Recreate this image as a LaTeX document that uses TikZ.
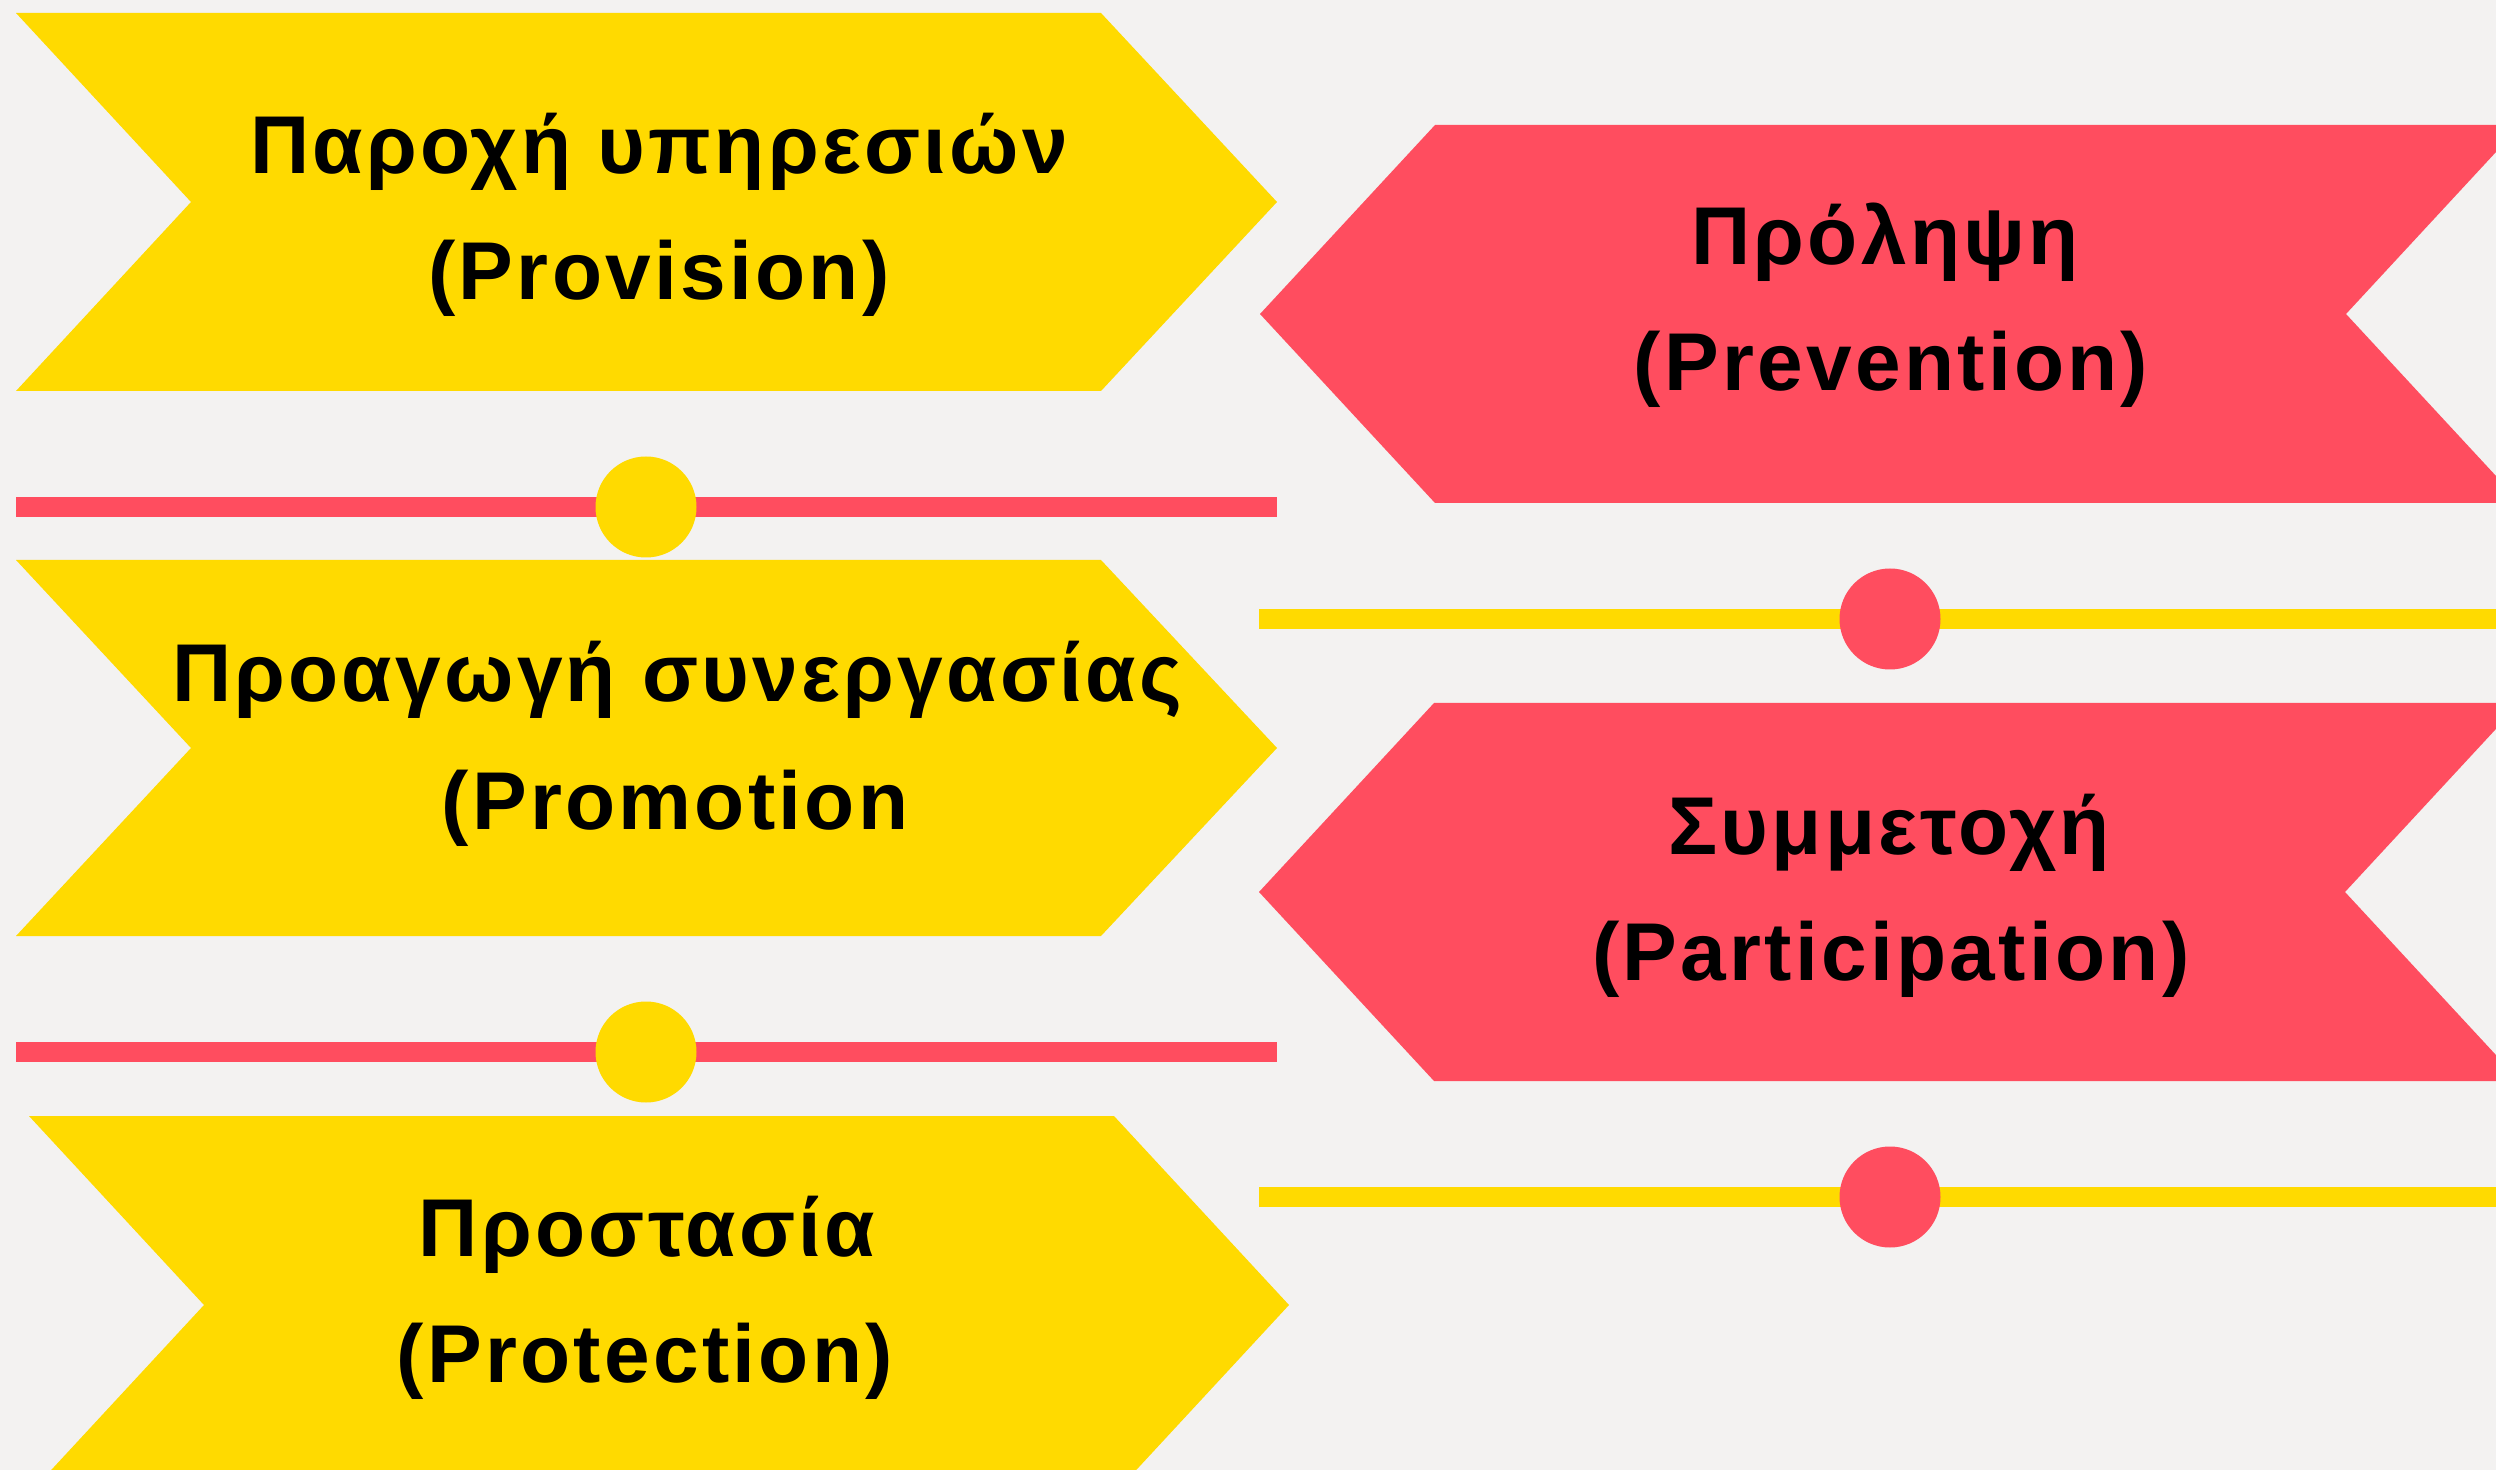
\documentclass[tikz,border=0pt]{standalone}
\usepackage{fontspec}
\newfontfamily\labfont{Liberation Sans}[LetterSpace=4]
\definecolor{bgc}{HTML}{F3F2F1}
\definecolor{yel}{HTML}{FFDA00}
\definecolor{redc}{HTML}{FF4D5F}
\tikzset{
  lab/.style={anchor=base, inner sep=0pt, text=black, font=\labfont\bfseries\fontsize{41}{49}\selectfont},
  dot/.style={circle, minimum size=50.5pt, inner sep=0pt},
  bar/.style={line width=10pt},
}
\begin{document}
\begin{tikzpicture}[x=0.5pt, y=-0.5pt]
\fill[bgc] (0,0) rectangle (2496,1470);
\useasboundingbox (0,0) rectangle (2496,1470);
\begin{scope}
\clip (0,0) rectangle (2496,1470);
% yellow chevrons
\fill[yel] (16,13) -- (1101,13) -- (1277,202) -- (1101,391) -- (16,391) -- (191,202) -- cycle;
\fill[yel] (16,560) -- (1101,560) -- (1277,748) -- (1101,936) -- (16,936) -- (191,748) -- cycle;
\fill[yel] (29,1116) -- (1114,1116) -- (1289,1305) -- (1114,1494) -- (29,1494) -- (204,1305) -- cycle;
% red chevrons
\fill[redc] (1435,125) -- (2521,125) -- (2346,314) -- (2521,503) -- (1435,503) -- (1260,314) -- cycle;
\fill[redc] (1434,703) -- (2520,703) -- (2345,892) -- (2520,1081) -- (1434,1081) -- (1259,892) -- cycle;
\end{scope}
% dividers
\coordinate (r1a) at (16,507);
\coordinate (r1b) at (1277,507);
\coordinate (r2a) at (16,1052);
\coordinate (r2b) at (1277,1052);
\coordinate (y1a) at (1259,619);
\coordinate (y1b) at (2496,619);
\coordinate (y2a) at (1259,1197);
\coordinate (y2b) at (2496,1197);
\draw[bar, redc] (r1a) -- (r1b);
\draw[bar, redc] (r2a) -- (r2b);
\draw[bar, yel] (y1a) -- (y1b);
\draw[bar, yel] (y2a) -- (y2b);
\node[dot, fill=yel] (d1) at (646,507) {};
\node[dot, fill=yel] (d2) at (646,1052) {};
\node[dot, fill=redc] (d3) at (1890,619) {};
\node[dot, fill=redc] (d4) at (1890,1197) {};
% labels
\node[lab] (t1a) at (659,174) {Παροχή υπηρεσιών};
\node[lab] (t1b) at (659,300) {(Provision)};
\node[lab] (t2a) at (677,702) {Προαγωγή συνεργασίας};
\node[lab] (t2b) at (675,829) {(Promotion};
\node[lab] (t3a) at (647,1256) {Προστασία};
\node[lab] (t3b) at (645,1382) {(Protection)};
\node[lab] (t4a) at (1885,265) {Πρόληψη};
\node[lab] (t4b) at (1891,391) {(Prevention)};
\node[lab] (t5a) at (1889,854) {Συμμετοχή};
\node[lab] (t5b) at (1891,980) {(Participation)};
\end{tikzpicture}
\end{document}
